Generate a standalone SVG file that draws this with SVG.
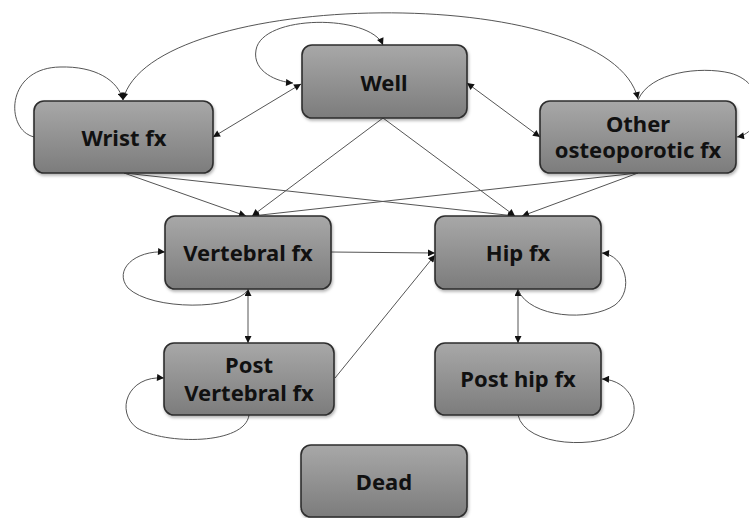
<svg xmlns="http://www.w3.org/2000/svg" width="749" height="518" viewBox="0 0 749 518">
<defs>
<linearGradient id="g" x1="0" y1="0" x2="0" y2="1">
<stop offset="0" stop-color="#a8a8a8"/>
<stop offset="1" stop-color="#7c7c7c"/>
</linearGradient>
<filter id="sh" x="-10%" y="-10%" width="125%" height="130%">
<feDropShadow dx="1" dy="2" stdDeviation="1.5" flood-color="#000" flood-opacity="0.3"/>
</filter>
<marker id="ah" viewBox="0 0 10 10" refX="10" refY="5" markerWidth="8" markerHeight="7" markerUnits="userSpaceOnUse" orient="auto-start-reverse">
<path d="M0,0 L10,5 L0,10 z" fill="#111"/>
</marker>
</defs>
<style>
.box{fill:url(#g);stroke:#2e2e2e;stroke-width:1.6;filter:url(#sh)}
.t{font-family:"Noto Sans","Open Sans","Liberation Sans",sans-serif;font-weight:bold;font-size:22px;fill:#111;text-anchor:middle}
.c{fill:none;stroke:#555;stroke-width:1}
.e{marker-end:url(#ah)}
.b{marker-start:url(#ah);marker-end:url(#ah)}
</style>
<g id="connectors">
<path class="c b" d="M213 137 L301 84"/>
<path class="c b" d="M467 83 L540 137"/>
<path class="c b" d="M123 100 C150 -12, 610 -20, 638 99"/>
<path class="c e" d="M34 137 C5 130, 5 68, 60 67 C95 66, 118 80, 123 100"/>
<path class="c b" d="M383 45 C370 14, 262 14, 256 50 C252 72, 278 82, 293 83"/>
<path class="c e" d="M638 100 C650 72, 700 66, 730 73 C770 84, 765 132, 737 137"/>
<path class="c e" d="M383 118 L252 216"/>
<path class="c e" d="M383 118 L515 216"/>
<path class="c e" d="M124 173 L246 216"/>
<path class="c e" d="M124 173 L515 216"/>
<path class="c e" d="M638 173 L252 216"/>
<path class="c e" d="M638 173 L522 216"/>
<path class="c e" d="M331 252 L435 253"/>
<path class="c e" d="M335 378 L435 255"/>
<path class="c b" d="M248 289 L248 343"/>
<path class="c b" d="M518 289 L518 343"/>
<path class="c e" d="M248 290 C235 310, 152 311, 128 288 C113 270, 135 250, 165 252"/>
<path class="c e" d="M249 415 C245 445, 165 445, 137 428 C115 412, 127 375, 164 378"/>
<path class="c e" d="M518 290 C530 318, 590 322, 615 305 C635 290, 625 255, 602 253"/>
<path class="c e" d="M518 415 C525 447, 600 450, 625 430 C645 410, 630 380, 602 379"/>
</g>
<g id="well"><rect class="box" x="302" y="45" width="165" height="73" rx="10"/><text class="t" x="384" y="91">Well</text></g>
<g id="wrist"><rect class="box" x="34" y="101" width="179" height="72" rx="10"/><text class="t" x="124" y="146">Wrist fx</text></g>
<g id="other"><rect class="box" x="540" y="101" width="196" height="72" rx="10"/><text class="t" x="638" y="132">Other</text><text class="t" x="638" y="158">osteoporotic fx</text></g>
<g id="vertebral"><rect class="box" x="165" y="216" width="166" height="73" rx="10"/><text class="t" x="248" y="261">Vertebral fx</text></g>
<g id="hip"><rect class="box" x="435" y="216" width="166" height="73" rx="10"/><text class="t" x="518" y="261">Hip fx</text></g>
<g id="postvertebral"><rect class="box" x="164" y="343" width="170" height="72" rx="10"/><text class="t" x="249" y="373">Post</text><text class="t" x="249" y="401">Vertebral fx</text></g>
<g id="posthip"><rect class="box" x="435" y="343" width="166" height="72" rx="10"/><text class="t" x="518" y="387">Post hip fx</text></g>
<g id="dead"><rect class="box" x="301" y="445" width="166" height="72" rx="10"/><text class="t" x="384" y="490">Dead</text></g>
</svg>
